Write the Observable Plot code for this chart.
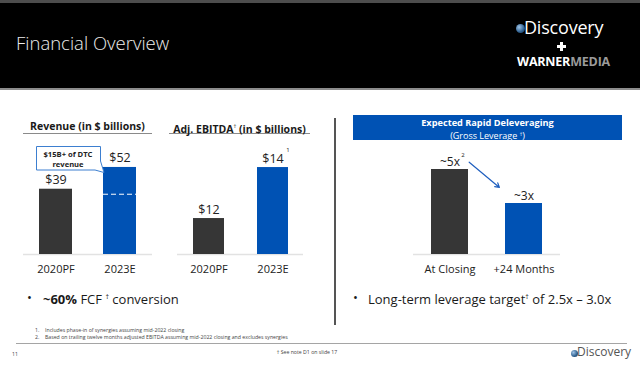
<!DOCTYPE html>
<html><head><meta charset="utf-8">
<script src="https://cdn.jsdelivr.net/npm/d3@7"></script>
<script src="https://cdn.jsdelivr.net/npm/@observablehq/plot@0.6"></script>
<style>
body{margin:0;background:#fff;font-family:"Open Sans",sans-serif;}
#slide{position:relative;width:640px;height:365px;overflow:hidden;background:#fff;}
.abs{position:absolute;white-space:nowrap;}
.ctitle{font-weight:700;font-size:10.5px;color:#1a1a1a;text-align:center;line-height:14px;height:14px;border-bottom:1.5px solid #8a8a8a;}
.ctitle sup{font-size:5.5px;vertical-align:5px;font-weight:400;}
.bullet{font-size:13px;line-height:18px;color:#1a1a1a;}
.bullet sup{font-size:7px;vertical-align:5px;}
.fn{font-size:5.2px;line-height:6px;color:#444;}
</style></head><body>
<div id="slide">
  <div class="abs" style="left:0;top:0;width:640px;height:3px;background:#4d4d4d"></div>
  <div class="abs" style="left:0;top:3px;width:640px;height:85px;background:#000"></div>
  <div class="abs" style="left:0;top:88px;width:640px;height:2px;background:#8c8c8c"></div>
  <div class="abs" style="left:16px;top:31px;font-size:18.5px;line-height:24px;font-weight:300;color:#ececec">Financial Overview</div>
  <div class="abs" style="left:516px;top:24px;width:9px;height:9px;border-radius:50%;background:radial-gradient(circle at 35% 35%,#9ec3e6,#2d5f8f 60%,#1b3550)"></div>
  <div class="abs" style="left:524px;top:19px;font-size:18px;line-height:16px;color:#fff;letter-spacing:-0.2px">Discovery</div>
  <div class="abs" style="left:557px;top:45px;width:9px;height:2.5px;background:#fff"></div>
  <div class="abs" style="left:560.3px;top:41.5px;width:2.5px;height:9.5px;background:#fff"></div>
  <div class="abs" style="left:517px;top:56px;font-size:12.5px;line-height:12px;font-weight:700;color:#fff;letter-spacing:-0.2px">WARNER<span style="color:#9a9a9a">MEDIA</span></div>

  <div class="abs ctitle" style="left:23px;top:119px;width:129px">Revenue (in $ billions)</div>
  <div class="abs ctitle" style="left:169px;top:119px;width:141px">Adj. EBITDA<sup>†</sup> (in $ billions)</div>

  <div class="abs" style="left:353px;top:115px;width:269px;height:25px;background:#0052b4"></div>
  <div class="abs" style="left:353px;top:117px;width:269px;text-align:center;font-size:9.2px;line-height:11px;font-weight:700;color:#fff">Expected Rapid Deleveraging</div>
  <div class="abs" style="left:353px;top:128.5px;width:269px;text-align:center;font-size:9px;line-height:11px;color:#fff">(Gross Leverage <sup style="font-size:5px;vertical-align:3px">†</sup>)</div>

  <div class="abs" style="left:334px;top:118px;width:2px;height:207px;background:#555"></div>

  <div id="rev" class="abs" style="left:20px;top:140px"></div>
  <div id="ebitda" class="abs" style="left:170px;top:140px"></div>
  <div id="lev" class="abs" style="left:410px;top:140px"></div>

  <svg class="abs" style="left:0;top:0" width="640" height="365">
    <path d="M36.5,146.5 H100.5 V161 L104,172.5 L95,170 H36.5 Z" fill="#fff" stroke="#3d7fd0" stroke-width="1"/>
  </svg>
  <div class="abs" style="left:36px;top:150px;width:64px;text-align:center;font-size:7.6px;line-height:8px;font-weight:700;color:#222">$15B+ of DTC</div>
  <div class="abs" style="left:36px;top:159.5px;width:64px;text-align:center;font-size:7.6px;line-height:8px;font-weight:700;color:#222">revenue</div>

  <div class="abs bullet" style="left:27px;top:288px">•</div>
  <div class="abs bullet" style="left:43px;top:288px"><b>~60%</b> FCF <sup>†</sup> conversion</div>
  <div class="abs bullet" style="left:353px;top:288px">•</div>
  <div class="abs bullet" style="left:368px;top:288px">Long-term leverage target<sup>†</sup> of 2.5x – 3.0x</div>

  <div class="abs fn" style="left:35px;top:327px">1.</div>
  <div class="abs fn" style="left:45px;top:327px">Includes phase-in of synergies assuming mid-2022 closing</div>
  <div class="abs fn" style="left:35px;top:333.5px">2.</div>
  <div class="abs fn" style="left:45px;top:333.5px">Based on trailing twelve months adjusted EBITDA assuming mid-2022 closing and excludes synergies</div>
  <div class="abs" style="left:16px;top:343px;width:611px;height:1px;background:#a5a5a5"></div>
  <div class="abs fn" style="left:12px;top:351px">11</div>
  <div class="abs fn" style="left:257px;top:349px;width:100px;text-align:center">† See note D1 on slide 17</div>
  <div class="abs" style="left:571px;top:350px;width:7px;height:7px;border-radius:50%;background:radial-gradient(circle at 35% 35%,#9ec3e6,#2d5f8f 60%,#1b3550)"></div>
  <div class="abs" style="left:577px;top:345px;font-size:12px;line-height:14px;color:#555">Discovery</div>
</div>
<script>
const barColors = ["#363636", "#0052b4"];

const revCats = ["2020PF", "2023E"];
const revVals = [39, 52];
const revLabels = ["$39", "$52"];
const dtcSplit = 36;

const ebitdaCats = ["2020PF", "2023E"];
const ebitdaVals = [12, 14];
const ebitdaLabels = ["$12", "$14"];
const ebitdaBase = 10.59;

const levCats = ["At Closing", "+24 Months"];
const levVals = [5, 3];
const levLabels = ["~5x", "~3x"];
const levArrow = [{from: "At Closing", fromV: 6.37, to: "+24 Months", toV: 2.74}];

const style = {fontFamily: "Open Sans", fontSize: "11px", color: "#222", background: "transparent", overflow: "visible"};

const revData = revCats.map((c, i) => ({cat: c, v: revVals[i], label: revLabels[i], color: barColors[i]}));
document.getElementById("rev").append(Plot.plot({
  width: 135, height: 140, marginLeft: 3, marginRight: 3, marginTop: 0, marginBottom: 26,
  x: {domain: revCats, paddingInner: 0.477, paddingOuter: 0.231},
  y: {domain: [0, 68.1], axis: null},
  color: {type: "identity"},
  style,
  marks: [
    Plot.ruleY([0], {stroke: "#e2e2e2", strokeWidth: 1.5}),
    Plot.barY(revData, {x: "cat", y: "v", fill: "color"}),
    Plot.tickY([{cat: "2023E", v: dtcSplit}], {x: "cat", y: "v", stroke: "#fff", strokeDasharray: "5,3", strokeWidth: 1}),
    Plot.text(revData, {x: "cat", y: "v", text: "label", dy: -9, fontSize: 12.5, fill: "#222"}),
    Plot.axisX({tickSize: 0, tickPadding: 11, fontSize: 11, fill: "#222", label: null})
  ]
}));

const ebData = ebitdaCats.map((c, i) => ({cat: c, v: ebitdaVals[i], label: ebitdaLabels[i], color: barColors[i]}));
document.getElementById("ebitda").append(Plot.plot({
  width: 140, height: 140, marginLeft: 7, marginRight: 7, marginTop: 0, marginBottom: 26,
  x: {domain: ebitdaCats, paddingInner: 0.516, paddingOuter: 0.242},
  y: {domain: [ebitdaBase, ebitdaBase + 114 / 25.5], axis: null},
  color: {type: "identity"},
  style,
  marks: [
    Plot.ruleY([ebitdaBase], {stroke: "#e2e2e2", strokeWidth: 1.5}),
    Plot.barY(ebData, {x: "cat", y1: ebitdaBase, y2: "v", fill: "color"}),
    Plot.text(ebData, {x: "cat", y: "v", text: "label", dy: -9, fontSize: 12.5, fill: "#222"}),
    Plot.text(ebData.filter(d => d.cat === "2023E"), {x: "cat", y: "v", text: () => "1", dx: 15, dy: -17, fontSize: 6, fill: "#222"}),
    Plot.axisX({tickSize: 0, tickPadding: 11, fontSize: 11, fill: "#222", label: null})
  ]
}));

const levData = levCats.map((c, i) => ({cat: c, v: levVals[i], label: levLabels[i], color: barColors[i]}));
document.getElementById("lev").append(Plot.plot({
  width: 155, height: 140, marginLeft: 3, marginRight: 5, marginTop: 0, marginBottom: 26,
  x: {domain: levCats, paddingInner: 0.5, paddingOuter: 0.243},
  y: {domain: [0, 114 / 17], axis: null},
  color: {type: "identity"},
  style,
  marks: [
    Plot.ruleY([0], {stroke: "#e2e2e2", strokeWidth: 1.5}),
    Plot.barY(levData, {x: "cat", y: "v", fill: "color"}),
    Plot.text(levData, {x: "cat", y: "v", text: "label", dy: -7, fontSize: 12, fill: "#222"}),
    Plot.text(levData.filter(d => d.cat === "At Closing"), {x: "cat", y: "v", text: () => "2", dx: 13, dy: -14, fontSize: 6, fill: "#222"}),
    Plot.arrow(levArrow, {x1: "from", y1: "fromV", x2: "to", y2: "toV", insetStart: 25, insetEnd: 32, stroke: "#1f5fbf", strokeWidth: 1.2, headLength: 6}),
    Plot.axisX({tickSize: 0, tickPadding: 11, fontSize: 11, fill: "#222", label: null})
  ]
}));
</script>
</body></html>
